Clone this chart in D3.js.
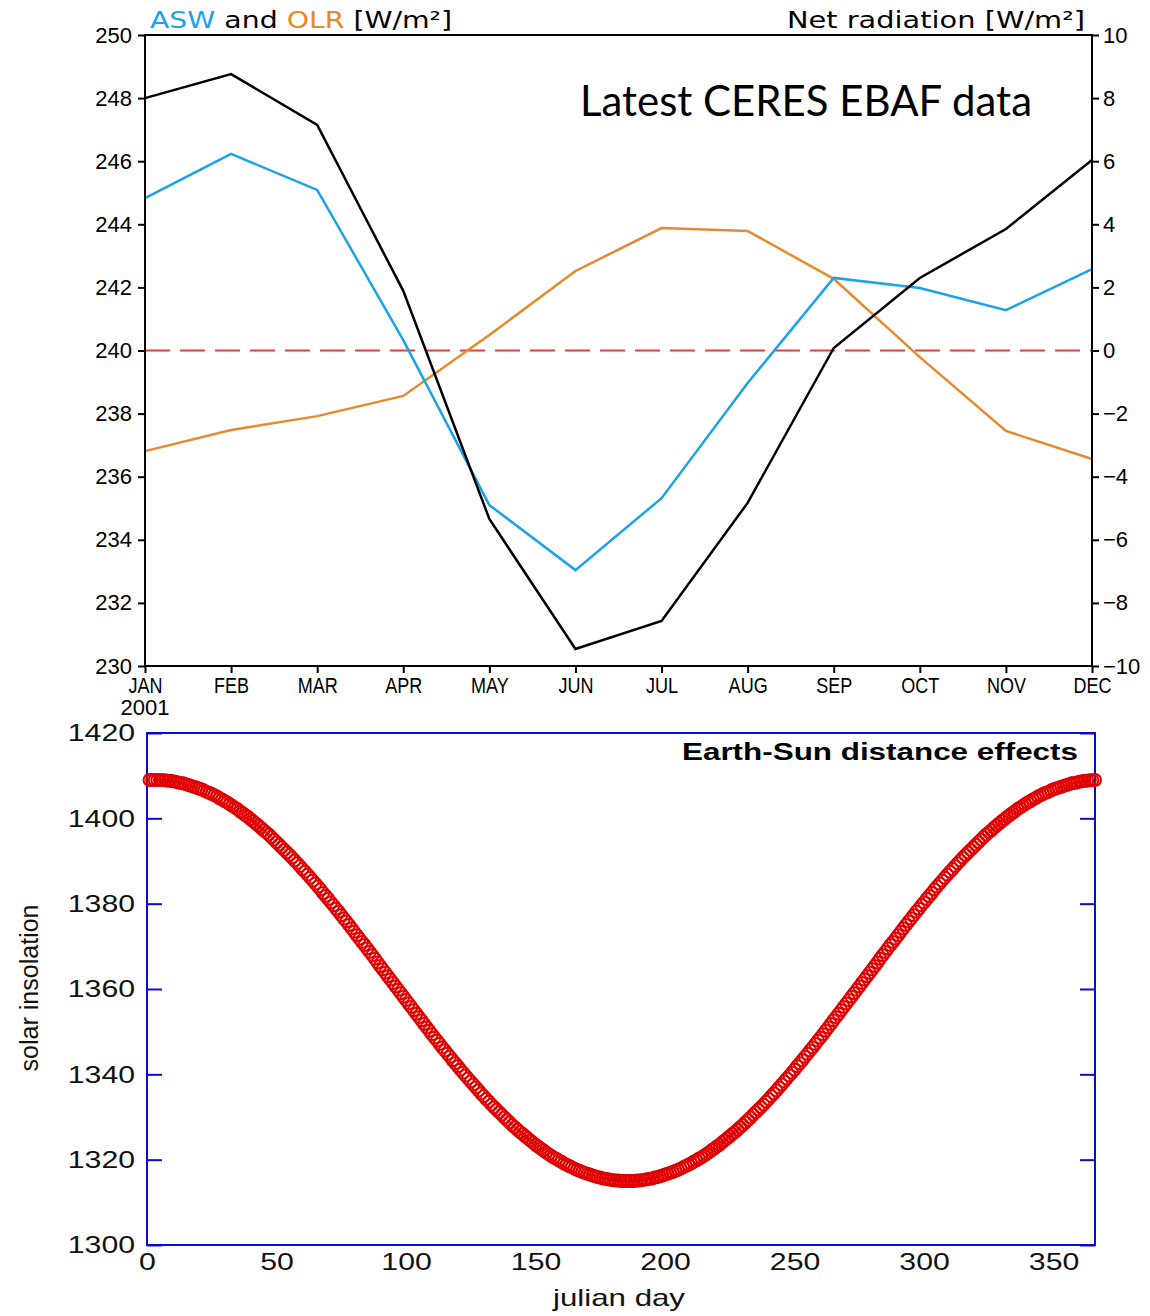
<!DOCTYPE html>
<html>
<head>
<meta charset="utf-8">
<script src="https://cdn.jsdelivr.net/npm/d3@7"></script>
<style>
  html, body { margin: 0; padding: 0; background: #fff; }
  svg { display: block; }
</style>
</head>
<body>
<svg id="chart" width="1150" height="1316"></svg>
<script>
// ---------- Top chart data (CERES EBAF, 2001 monthly) ----------
const months = ["JAN","FEB","MAR","APR","MAY","JUN","JUL","AUG","SEP","OCT","NOV","DEC"];
const asw = [244.83, 246.23, 245.09, 240.33, 235.10, 233.04, 235.32, 238.97, 242.30, 241.98, 241.28, 242.58];
const olr = [236.81, 237.48, 237.92, 238.56, 240.49, 242.52, 243.88, 243.79, 242.27, 239.79, 237.45, 236.56];
const netRad = [8.00, 8.76, 7.15, 1.89, -5.34, -9.46, -8.57, -4.83, 0.08, 2.30, 3.85, 6.04];
const leftTicks = [230,232,234,236,238,240,242,244,246,248,250];
const rightTicks = [-10,-8,-6,-4,-2,0,2,4,6,8,10];

// ---------- Bottom chart data (solar insolation by julian day 1..366) ----------
const insolation = [
1409.0,1409.0,1409.0,1409.0,1409.0,1408.9,1408.9,1408.8,1408.8,1408.7,
1408.6,1408.4,1408.3,1408.2,1408.0,1407.8,1407.6,1407.4,1407.2,1407.0,
1406.8,1406.5,1406.2,1406.0,1405.7,1405.4,1405.1,1404.7,1404.4,1404.0,
1403.7,1403.3,1402.9,1402.5,1402.1,1401.6,1401.2,1400.7,1400.3,1399.8,
1399.3,1398.8,1398.3,1397.8,1397.2,1396.7,1396.2,1395.6,1395.0,1394.4,
1393.8,1393.2,1392.6,1392.0,1391.4,1390.8,1390.1,1389.5,1388.8,1388.1,
1387.5,1386.8,1386.1,1385.4,1384.7,1384.0,1383.3,1382.5,1381.8,1381.1,
1380.3,1379.6,1378.8,1378.1,1377.3,1376.5,1375.8,1375.0,1374.2,1373.4,
1372.6,1371.8,1371.0,1370.3,1369.5,1368.7,1367.9,1367.1,1366.2,1365.4,
1364.6,1363.8,1363.0,1362.2,1361.4,1360.6,1359.8,1359.0,1358.2,1357.4,
1356.6,1355.8,1355.0,1354.2,1353.4,1352.6,1351.8,1351.0,1350.2,1349.4,
1348.6,1347.9,1347.1,1346.3,1345.6,1344.8,1344.1,1343.3,1342.6,1341.9,
1341.1,1340.4,1339.7,1339.0,1338.3,1337.6,1336.9,1336.2,1335.5,1334.9,
1334.2,1333.6,1332.9,1332.3,1331.7,1331.1,1330.5,1329.9,1329.3,1328.7,
1328.1,1327.6,1327.0,1326.5,1326.0,1325.5,1325.0,1324.5,1324.0,1323.5,
1323.1,1322.6,1322.2,1321.7,1321.3,1320.9,1320.5,1320.2,1319.8,1319.5,
1319.1,1318.8,1318.5,1318.2,1317.9,1317.6,1317.4,1317.1,1316.9,1316.7,
1316.5,1316.3,1316.1,1315.9,1315.8,1315.6,1315.5,1315.4,1315.3,1315.2,
1315.1,1315.1,1315.0,1315.0,1315.0,
1315.0,1315.0,1315.0,1315.1,1315.1,1315.2,1315.3,1315.4,1315.5,1315.6,
1315.8,1315.9,1316.1,1316.3,1316.5,1316.7,1316.9,1317.1,1317.4,1317.6,
1317.9,1318.2,1318.5,1318.8,1319.1,1319.5,1319.8,1320.2,1320.5,1320.9,
1321.3,1321.7,1322.2,1322.6,1323.1,1323.5,1324.0,1324.5,1325.0,1325.5,
1326.0,1326.5,1327.0,1327.6,1328.1,1328.7,1329.3,1329.9,1330.5,1331.1,
1331.7,1332.3,1332.9,1333.6,1334.2,1334.9,1335.5,1336.2,1336.9,1337.6,
1338.3,1339.0,1339.7,1340.4,1341.1,1341.9,1342.6,1343.3,1344.1,1344.8,
1345.6,1346.3,1347.1,1347.9,1348.6,1349.4,1350.2,1351.0,1351.8,1352.6,
1353.4,1354.2,1355.0,1355.8,1356.6,1357.4,1358.2,1359.0,1359.8,1360.6,
1361.4,1362.2,1363.0,1363.8,1364.6,1365.4,1366.2,1367.1,1367.9,1368.7,
1369.5,1370.3,1371.0,1371.8,1372.6,1373.4,1374.2,1375.0,1375.8,1376.5,
1377.3,1378.1,1378.8,1379.6,1380.3,1381.1,1381.8,1382.5,1383.3,1384.0,
1384.7,1385.4,1386.1,1386.8,1387.5,1388.1,1388.8,1389.5,1390.1,1390.8,
1391.4,1392.0,1392.6,1393.2,1393.8,1394.4,1395.0,1395.6,1396.2,1396.7,
1397.2,1397.8,1398.3,1398.8,1399.3,1399.8,1400.3,1400.7,1401.2,1401.6,
1402.1,1402.5,1402.9,1403.3,1403.7,1404.0,1404.4,1404.7,1405.1,1405.4,
1405.7,1406.0,1406.2,1406.5,1406.8,1407.0,1407.2,1407.4,1407.6,1407.8,
1408.0,1408.2,1408.3,1408.4,1408.6,1408.7,1408.8,1408.8,1408.9,1408.9,1409.0
];
const julianDays = insolation.map((_, i) => i + 1);
const insolTicks = [1300,1320,1340,1360,1380,1400,1420];
const dayTicks = [0,50,100,150,200,250,300,350];

// ---------- Drawing ----------
const svg = d3.select("#chart");
svg.append("rect").attr("width",1150).attr("height",1316).attr("fill","#fff");

const SANS = "'Liberation Sans', Arial, sans-serif";

// ===== TOP CHART =====
const T = {left:145, right:1092, top:35, bottom:666};
const x1 = d3.scalePoint().domain(months).range([T.left, T.right]);
const yL = d3.scaleLinear().domain([230,250]).range([T.bottom, T.top]);
const yR = d3.scaleLinear().domain([-10,10]).range([T.bottom, T.top]);

const topG = svg.append("g");

// zero net radiation dashed line
topG.append("line")
  .attr("x1", T.left).attr("x2", T.right)
  .attr("y1", yR(0)).attr("y2", yR(0))
  .attr("stroke", "#e8413c").attr("stroke-width", 2.2)
  .attr("stroke-dasharray", "25,10");

topG.append("path").datum(olr)
  .attr("d", d3.line().x((d,i)=>x1(months[i])).y(d => yL(d)))
  .attr("fill","none").attr("stroke","#e8892e").attr("stroke-width",2.5);
topG.append("path").datum(asw)
  .attr("d", d3.line().x((d,i)=>x1(months[i])).y(d => yL(d)))
  .attr("fill","none").attr("stroke","#1ba3e9").attr("stroke-width",2.5);
topG.append("path").datum(netRad)
  .attr("d", d3.line().x((d,i)=>x1(months[i])).y(d => yR(d)))
  .attr("fill","none").attr("stroke","#000").attr("stroke-width",2.5);

// frame
topG.append("rect")
  .attr("x", T.left).attr("y", T.top)
  .attr("width", T.right - T.left).attr("height", T.bottom - T.top)
  .attr("fill","none").attr("stroke","#000").attr("stroke-width",2);

// left axis
const gL = topG.append("g").attr("transform", `translate(${T.left},0)`)
  .call(d3.axisLeft(yL).tickValues(leftTicks).tickSize(7).tickPadding(6).tickFormat(d3.format("d")));
gL.select(".domain").remove();
gL.selectAll(".tick line").attr("stroke","#000").attr("stroke-width",2);
gL.selectAll("text").attr("font-family", SANS).attr("font-size", 22).attr("fill","#000");

// right axis
const gR = topG.append("g").attr("transform", `translate(${T.right},0)`)
  .call(d3.axisRight(yR).tickValues(rightTicks).tickSize(7).tickPadding(4)
    .tickFormat(d => d < 0 ? "\u2212" + Math.abs(d) : String(d)));
gR.select(".domain").remove();
gR.selectAll(".tick line").attr("stroke","#000").attr("stroke-width",2);
gR.selectAll("text").attr("font-family", SANS).attr("font-size", 22).attr("fill","#000");

// bottom axis
const gB = topG.append("g").attr("transform", `translate(0,${T.bottom})`)
  .call(d3.axisBottom(x1).tickSize(7).tickPadding(4));
gB.select(".domain").remove();
gB.selectAll(".tick line").attr("stroke","#000").attr("stroke-width",2);
gB.selectAll("text").attr("font-family", SANS).attr("font-size", 22).attr("fill","#000")
  .attr("transform","scale(0.82,1)");

topG.append("text").attr("x", T.left).attr("y", 715)
  .attr("text-anchor","middle").attr("font-family", SANS).attr("font-size", 22)
  .text("2001");

// titles
const t1 = topG.append("text").attr("x", 150).attr("y", 28)
  .attr("font-family","'DejaVu Sans', sans-serif").attr("font-size", 23)
  .attr("textLength", 302).attr("lengthAdjust","spacingAndGlyphs");
t1.append("tspan").attr("fill","#1ba3e9").text("ASW");
t1.append("tspan").attr("fill","#000").text(" and ");
t1.append("tspan").attr("fill","#e8892e").text("OLR");
t1.append("tspan").attr("fill","#000").text(" [W/m\u00B2]");

topG.append("text").attr("x", 787).attr("y", 28)
  .attr("font-family","'DejaVu Sans', sans-serif").attr("font-size", 23)
  .attr("textLength", 298).attr("lengthAdjust","spacingAndGlyphs")
  .attr("fill","#000").text("Net radiation [W/m\u00B2]");

topG.append("text").attr("x", 580).attr("y", 116)
  .attr("font-family","Lato, 'Open Sans', sans-serif").attr("font-size", 42)
  .attr("textLength", 452).attr("lengthAdjust","spacingAndGlyphs")
  .attr("fill","#000").text("Latest CERES EBAF data");

// ===== BOTTOM CHART =====
const B = {left:147, right:1095, top:733, bottom:1245};
const x2 = d3.scaleLinear().domain([0,366]).range([B.left, B.right]);
const y2 = d3.scaleLinear().domain([1300,1420]).range([B.bottom, B.top]);
const BLUE = "#0a0ad2";
const bot = svg.append("g");

// y axis left (inward ticks)
const bL = bot.append("g").attr("transform", `translate(${B.left},0)`)
  .call(d3.axisLeft(y2).tickValues(insolTicks).tickSize(-15).tickPadding(12).tickFormat(d3.format("d")));
bL.select(".domain").remove();
bL.selectAll(".tick line").attr("stroke",BLUE).attr("stroke-width",2);
bL.selectAll("text").attr("font-family", SANS).attr("font-size", 24).attr("fill","#111")
  .attr("textLength", d => String(d).length * 16.8).attr("lengthAdjust","spacingAndGlyphs");

// y axis right (inward ticks, no labels)
const bR = bot.append("g").attr("transform", `translate(${B.right},0)`)
  .call(d3.axisRight(y2).tickValues(insolTicks).tickSize(-15).tickFormat(""));
bR.select(".domain").remove();
bR.selectAll(".tick line").attr("stroke",BLUE).attr("stroke-width",2);

// x axis labels
const bB = bot.append("g").attr("transform", `translate(0,${B.bottom})`)
  .call(d3.axisBottom(x2).tickValues(dayTicks).tickSize(0).tickPadding(8).tickFormat(d3.format("d")));
bB.select(".domain").remove();
bB.selectAll("text").attr("font-family", SANS).attr("font-size", 24).attr("fill","#111")
  .attr("textLength", d => String(d).length * 16.8).attr("lengthAdjust","spacingAndGlyphs");

// frame
bot.append("rect")
  .attr("x", B.left).attr("y", B.top)
  .attr("width", B.right - B.left).attr("height", B.bottom - B.top)
  .attr("fill","none").attr("stroke",BLUE).attr("stroke-width",2);

// points
bot.append("g").selectAll("circle").data(insolation).join("circle")
  .attr("cx", (d,i) => x2(julianDays[i]))
  .attr("cy", d => y2(d))
  .attr("r", 6)
  .attr("fill","none").attr("stroke","#e00000").attr("stroke-width",2);

// labels
bot.append("text").attr("x", 1078).attr("y", 760)
  .attr("text-anchor","end").attr("font-family", SANS).attr("font-weight","bold")
  .attr("font-size", 23).attr("textLength", 396).attr("lengthAdjust","spacingAndGlyphs")
  .attr("fill","#000").text("Earth-Sun distance effects");

bot.append("text").attr("x", 619).attr("y", 1306)
  .attr("text-anchor","middle").attr("font-family", SANS).attr("font-size", 24)
  .attr("textLength", 132).attr("lengthAdjust","spacingAndGlyphs")
  .attr("fill","#111").text("julian day");

bot.append("text")
  .attr("transform","translate(38,988) rotate(-90)")
  .attr("text-anchor","middle").attr("font-family", SANS).attr("font-size", 25)
  .attr("textLength", 167).attr("lengthAdjust","spacingAndGlyphs")
  .attr("fill","#111").text("solar insolation");
</script>
</body>
</html>
